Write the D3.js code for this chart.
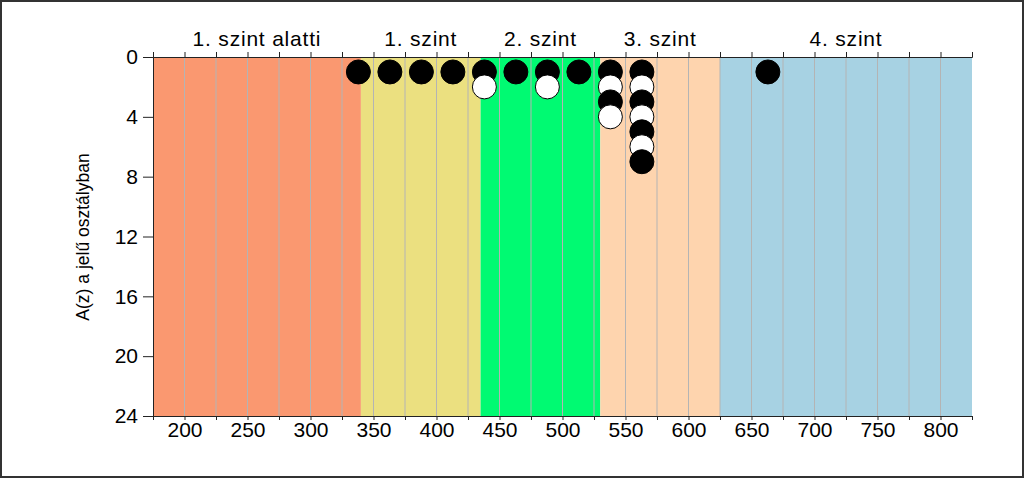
<!DOCTYPE html>
<html>
<head>
<meta charset="utf-8">
<script src="https://cdn.jsdelivr.net/npm/d3@7"></script>
<style>
  body { margin: 0; background: #fff; }
  text { font-family: "Liberation Sans", Arial, sans-serif; fill: #000; }
</style>
</head>
<body>
<svg width="1024" height="478"></svg>
<script>
// Szintek (kategóriák) és határaik
var levelNames = ["1. szint alatti", "1. szint", "2. szint", "3. szint", "4. szint"];
var levelBounds = [175, 340, 435, 530, 625, 825];
var levelColors = ["#fa9870", "#ebe080", "#00fa72", "#fed4ae", "#a7d2e3"];

// Pontok: pontszám és darabszám oszloponként
var scores = [338, 363, 388, 413, 438, 463, 488, 513, 538, 563, 663];
var counts = [1, 1, 1, 1, 2, 1, 2, 1, 4, 7, 1];

var yTicks = [0, 4, 8, 12, 16, 20, 24];

var svg = d3.select("svg");

// keret
svg.append("rect")
    .attr("x", 1).attr("y", 1)
    .attr("width", 1022).attr("height", 476)
    .attr("fill", "none")
    .attr("stroke", "#333")
    .attr("stroke-width", 2);

var x = d3.scaleLinear().domain([175, 825]).range([153, 972]);
var y = d3.scaleLinear().domain([0, 24]).range([57, 416]);

// színes sávok
svg.selectAll("rect.band")
    .data(levelNames)
  .enter().append("rect")
    .attr("class", "band")
    .attr("x", function(d, i) { return x(levelBounds[i]); })
    .attr("y", y(0))
    .attr("width", function(d, i) { return x(levelBounds[i + 1]) - x(levelBounds[i]); })
    .attr("height", y(24) - y(0))
    .attr("fill", function(d, i) { return levelColors[i]; });

// szürke rácsvonalak
svg.selectAll("line.grid")
    .data(d3.range(200, 825, 25))
  .enter().append("line")
    .attr("class", "grid")
    .attr("x1", function(d) { return x(d); })
    .attr("x2", function(d) { return x(d); })
    .attr("y1", y(0))
    .attr("y2", y(24))
    .attr("stroke", "#b4b4b4")
    .attr("stroke-width", 1);

// szint feliratok
svg.selectAll("text.level")
    .data(levelNames)
  .enter().append("text")
    .attr("class", "level")
    .attr("x", function(d, i) { return x((levelBounds[i] + levelBounds[i + 1]) / 2); })
    .attr("y", 46)
    .attr("text-anchor", "middle")
    .style("font-size", "21px")
    .style("letter-spacing", "0.8px")
    .text(function(d) { return d; });

// tengelyek
var xTickVals = d3.range(175, 826, 25);

var axBottom = svg.append("g")
    .attr("transform", "translate(0," + y(24) + ")")
    .call(d3.axisBottom(x).tickValues(xTickVals).tickSize(4).tickPadding(2)
      .tickFormat(function(d) { return d % 50 === 0 ? d : ""; }));

var axTop = svg.append("g")
    .attr("transform", "translate(0," + y(0) + ")")
    .call(d3.axisTop(x).tickValues(xTickVals).tickSize(5).tickFormat(""));

var axLeft = svg.append("g")
    .attr("transform", "translate(" + x(175) + ",0)")
    .call(d3.axisLeft(y).tickValues(yTicks).tickSize(10).tickPadding(5));

[axBottom, axTop, axLeft].forEach(function(g) {
  g.select(".domain").attr("stroke", "#222").attr("stroke-width", 1);
  g.selectAll(".tick line").attr("stroke", "#222");
  g.selectAll("text")
    .style("font-size", "21px")
    .style("font-family", "Liberation Sans, Arial, sans-serif")
    .attr("fill", "#000");
});

// tengelycím
svg.append("text")
    .attr("transform", "translate(89,237) rotate(-90)")
    .attr("text-anchor", "middle")
    .style("font-size", "17.5px")
    .text("A(z) a jelű osztályban");

// pontok egymásra rakva
var points = [];
scores.forEach(function(s, i) {
  for (var k = 1; k <= counts[i]; k++) points.push({score: s, n: k});
});

svg.selectAll("circle")
    .data(points)
  .enter().append("circle")
    .attr("cx", function(d) { return x(d.score); })
    .attr("cy", function(d) { return y(d.n); })
    .attr("r", 12)
    .attr("fill", function(d) { return d.n % 2 === 1 ? "#000" : "#fff"; })
    .attr("stroke", "#000")
    .attr("stroke-width", 1);
</script>
</body>
</html>
